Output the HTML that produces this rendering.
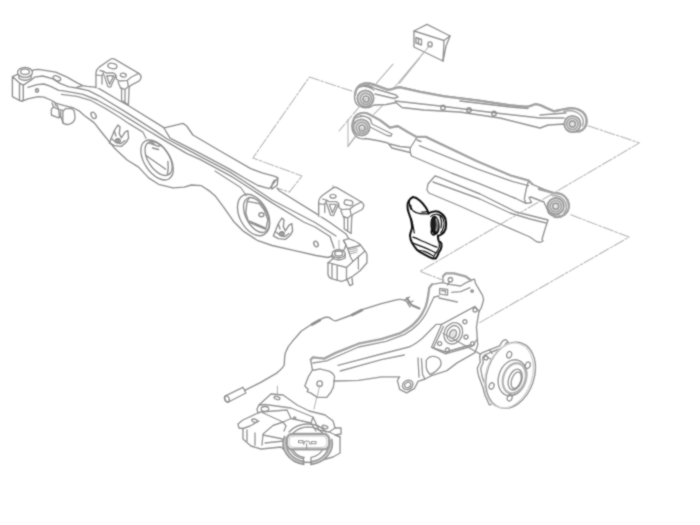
<!DOCTYPE html>
<html><head><meta charset="utf-8"><title>Rear suspension diagram</title>
<style>
html,body{margin:0;padding:0;background:#fff;font-family:"Liberation Sans",sans-serif;}
svg{display:block}
.g path,.g ellipse,.g circle,.g line,.g polyline,.g rect{fill:none;stroke:#8e8e8e;stroke-width:1.35;stroke-linecap:round;stroke-linejoin:round}
.g .w{fill:#fff}
.g .d{stroke:#b4b4b4;stroke-width:1.05}
.g .t{stroke:#969696;stroke-width:1.25}
.k path,.k ellipse,.k circle{fill:none;stroke:#111;stroke-width:2;stroke-linecap:round;stroke-linejoin:round}
.k .n{stroke-width:1.2}
</style></head><body>
<svg width="700" height="525" viewBox="0 0 700 525">
<defs><filter id="soft" x="0" y="0" width="700" height="525" filterUnits="userSpaceOnUse"><feConvolveMatrix order="3" kernelMatrix="1 2 1 2 10 2 1 2 1" divisor="22" edgeMode="duplicate" preserveAlpha="false"/></filter></defs>
<rect width="700" height="525" fill="#fff"/>
<g filter="url(#soft)">
<g class="g">
<!-- LEADERS -->
<g id="leaders">
<path class="d" style="stroke-dasharray:11 1.8 2.6 1.8" d="M351.900,91.100 L309.400,77 L252.900,158 L302,176 L289.300,192.100 L278.500,188.500"/>
<path class="d" d="M333,185.400 L333,196 M339,240 L339,252"/>
<path class="d" d="M430,45 L393,89 M393,64.100 L376.300,83.400 M420,57.700 L399.400,83.400 M382.700,105.300 L373.700,114.300 M348,119.400 L348,146.400 L361,128"/>
<path class="d" d="M277.400,386 L277.400,396.300 M319.700,384 L314,409 M255.700,415.700 L255.700,420 M325.400,421.400 L325.400,427 M305,445 L305,463"/>
</g>
<!-- SUBFRAME -->
<g id="subframe">
<!-- left end box -->
<path d="M12.400,76.600 L12.400,96.600 L19.500,100.500 L22.100,101.100 L23.300,100.500 L23.300,85.100 M19.500,100.500 L19.500,83.200 M12.400,76.600 L19.900,83.400 L23.300,85.100 M12.400,76.600 L17.600,74.300"/>
<ellipse class="w" cx="25" cy="72.400" rx="7.400" ry="4.900"/><ellipse cx="25" cy="71.800" rx="4.400" ry="2.700"/>
<path d="M19,75 L19,78.5 Q25,82 31,78.5 L31,75"/>
<!-- top back edge -->
<path d="M32.100,70.700 C34,69.600 36,69.300 38.600,69.300 L55.700,72.100 L67.100,77.100 L77.100,82.900 L82.900,85.700 L87.100,86.400 L97.100,87.300 L120,101 L128.600,105.700 L164.300,127.900 M77,87.200 L83,85.700"/>
<!-- raised -->
<path d="M164.300,127.900 L182.900,123.400 L186.700,126 L192.900,135 L219.300,150.500 L250.700,168.600 L262.100,172.900 L275,176.400 L277.900,177.900 L269.300,188.600 M164.300,128.500 L170,138.200 L200,153.300 L230,169.300 L243.600,177.500 L257.900,185.500 L269.300,188.600 M277.900,177.900 L277.300,185 L272,189 M274.500,180 L272.300,183.600 L271.500,188.500"/>
<!-- top edge after raised -->
<path d="M277,188 L279.300,190.700 L315,212.900 L330,222.500 L346,234 L349,239"/>
<!-- F,S,G lines -->
<path d="M23.300,85.100 L31.300,80 L34.700,77.100 L42.700,76 L53,78.900 L59.900,83.400 L69,86.900 L77.100,88 L88.600,90.700 L100,96.300 L128.600,113.900 L157.100,132.100 L167.100,139 L187,149.300 L200,156.400 L230,172.100 L243.600,181 L272.100,200 L315,222.500 L336,236"/>
<path d="M27.900,87.400 L37,84.600 L43.900,84 L50.700,86.300 L58.700,90.300 L62.100,90.700 L73.600,92.600 L82.900,94.300 L97.100,100 L120,113 L128.600,118.400 L147.100,130 L161.400,138.600 L187,153.600 L200,159.300 L230,175.700 L236.400,179.500 L272.100,202.900 L303.600,222 L315,227 L330,236.500 L334,248"/>
<path class="t" d="M61.400,94.300 L77.100,96.400 L91.400,100.700 L105.700,108.600 L120,117.500 L128.600,123.400 L142.900,132.100 L146,138.500 M215,171 L240.700,187.500 L246.400,195.700"/>
<!-- lower edge -->
<path d="M22.100,101.100 L27.900,98.900 L38.100,96.600 L43.900,97.100 L50.700,100 L56.400,103.400 L64.400,105.700 L73.600,108 L79,110.800 L84.300,115.500 L94.300,122.900 L101,131.500 L114.300,147.900 L127.100,160 L138.600,167.100 L148.600,177.900 L158.600,184.300 L172.900,187.900 L184.300,187.100 L191.400,185 L201.400,185.700 L210,191.400 L215,195.700 L223.600,207.100 L233.600,221.400 L243.600,231.400 L257.900,240.700 L272.100,245.500 L293.600,250.300 L316,255.500 L328,257.500 L333,255.500"/>
<!-- small holes -->
<ellipse cx="56.900" cy="78.300" rx="4" ry="2.200" transform="rotate(22 56.900 78.300)"/>
<ellipse cx="37" cy="90.600" rx="1.600" ry="1.800" style="fill:#ccc"/>
<ellipse cx="93.600" cy="115.400" rx="2.200" ry="3.400" transform="rotate(-30 93.600 115.400)"/>
<ellipse cx="316" cy="244" rx="2" ry="3" transform="rotate(-25 316 244)"/>
<!-- big holes -->
<ellipse cx="157.100" cy="160" rx="12.800" ry="22.300" transform="rotate(-33 157.100 160)"/>
<ellipse cx="158.600" cy="158.500" rx="10.500" ry="19" transform="rotate(-33 158.600 158.500)"/>
<ellipse cx="253.600" cy="215" rx="13.900" ry="22.200" transform="rotate(-28 253.600 215)"/>
<ellipse cx="256.400" cy="215" rx="10.500" ry="19" transform="rotate(-28 256.400 215)"/>
<!-- top-left bracket -->
<g id="brk">
<path class="w" d="M96,87.700 L96,73 Q96,70 99.300,67.100 L110.500,59.300 Q112.400,58 114.500,59.200 L138.700,73.400 Q141.500,75.500 141,77.500 Q140.500,79.500 139.300,80.900 L130.700,85.400 Q129,86.500 129,88.900 L128.400,104.900 L121.600,100.300 L121.600,89.400"/>
<path d="M96.400,75.200 L102,75.700 L104,71.500 L99.900,70.500 M104,71.500 L106,73 L113.600,73 L116,75 L116.400,79.100 L119.300,81 L127.300,80.300 L131.500,77 L138.700,73.400 M103.900,74.600 L107.900,86.600 L110.700,87.100 L115.900,75.100 M106.700,75.700 L109.600,84.300 L113.600,75.700 Z M118.100,82 L120.400,87.700 L125,89.400 L128.400,86.600 L127.300,80.300 M120.400,87.700 L121.600,89.400 M125,89.400 L125,102.500 M102,75.700 L102,84"/>
</g>
<ellipse cx="112.400" cy="66" rx="4.600" ry="2.600" transform="rotate(10 112.400 66)"/>
<ellipse cx="123.300" cy="75.100" rx="3" ry="1.900" transform="rotate(10 123.300 75.100)"/>
<!-- clip under left -->
<path class="w" d="M52.100,102.900 L53.600,107.100 L51.400,109.300 L51.400,115 L58.600,117.900 L60.700,116.400 L62.100,120 L62.900,122.900 C65,124.500 67,124.800 68.600,124.300 C71,123.800 72.800,122.800 73.600,121.400 C74.800,120 75,118.500 75,117.100 L74.300,111.400 C73.500,109.800 72.300,108.900 70.700,108.600 L65.700,108.600 L63.600,110.700 L58.600,109.300 L57,105"/>
<path d="M58.600,109.300 L59.300,116.400 M60.700,111.400 L60.700,116.400 M62.900,111.400 L62.900,122.900 M53.600,107.100 L58.600,109.300 M55,103.500 L56,106"/>
<!-- front brackets w/ bolt -->
<g id="fbr">
<path d="M109.300,142.900 L114.300,130.700 L117.900,125 L120,127.100 L119.300,133.600 L121.400,137.900 L125,132.100 L127.900,130.700 L128.600,137.900 L126.400,142.100 L121.400,146.400 L114.300,145.700 Z M112,139 L116,142.500 L121,143.500 L125,140.500 M114.300,130.700 L116,136"/>
<ellipse cx="117.900" cy="140.700" rx="2.400" ry="2"/><ellipse cx="117.900" cy="140.200" rx="1.200" ry="1"/>
</g>
<use href="#fbr" transform="translate(164,93)"/>
<!-- hole inner details -->
<path d="M146.400,155.700 L165.700,169.300 M167.900,161.400 C168.500,166 168.500,170 167.500,174.500 M148.600,142.900 L158.600,146.400 L161,145 M151,141.800 L155,145 M152.500,148 L158.600,149.500"/>
<path d="M249.300,197.500 L247.100,201.400 L259.300,203.600 L264.300,210 L267.900,220 L265.700,229.300 M247.100,201.400 L245.700,212.900 L248.600,222.100 L265.700,229.300 M249.500,221 L264.500,227.500"/>
<ellipse cx="261.400" cy="214.700" rx="2.500" ry="2"/>
<!-- right bracket -->
<use href="#brk" transform="translate(222.7,128.6)"/>
<ellipse cx="333" cy="196.300" rx="3" ry="1.900"/>
<rect x="344.200" y="200.200" width="8.600" height="5" rx="2.300" transform="rotate(12 348.400 202.600)"/>
<!-- right end block -->
<path class="w" d="M328,262.700 L328,274.100 Q328.500,277.500 331.400,278.700 L341.700,281.300 L346.500,279.700 L353,276 L360,270.700 L366.900,262.700 L366.900,254.700 Q366.500,252 364.600,250.500 L360,244.400 Q355,240.500 348.600,238.700 L343.500,240.400 L346,245 L344,250 L334,258 Z"/>
<path d="M328,262.700 L346.500,267.500 L346.500,279.700 M346.500,267.500 L355.400,259.300 L364.600,251.500 M343.500,240.400 Q347,246 350.500,257 L353,261.500 M347.500,248.500 L360,245.500 M358.400,256 L358.400,269 M332,263.800 L332,277.500 M337.200,265.200 L337.200,280 M347.400,279.900 L349.700,285.600 L352.700,284.400 L352,278"/>
<path class="t" style="stroke-width:.9" d="M349,250 l8,-2 M349.500,252 l8,-2 M350,254 l7,-1.800"/>
<ellipse class="w" cx="338.700" cy="253.800" rx="6.500" ry="4.200"/><ellipse cx="338.700" cy="253.500" rx="4" ry="2.500"/>
<path d="M332.200,254.500 L332.200,258 Q338.700,262 345.200,258 L345.200,254.500"/>
</g>
<!-- SMALL BRACKET -->
<g id="smallbr">
<path class="w" d="M414,31 L427,24.400 L450,36 L446,46 L443,61 L414,47 Z"/>
<path d="M414,31 L444,40.500 L443,61 M444,40.500 L450,36 M416,37.500 L421.500,39.500 L421.500,45 L416,43 Z M418.500,38.500 L418.500,44"/>
<ellipse cx="430" cy="44.400" rx="2.200" ry="2.500"/>
</g>
<!-- UPPER ARM -->
<g id="uarm">
<path class="w" d="M360,84.500 C364,82.500 369,82.500 373,84 L388,89.500 C392,89.500 396,87 400,87 L420,91.500 L444,96 L480,100.500 L510,105 L526,106.500 C530,106.500 533,104 536,104 C540,104 543,106 546,107.500 L554,111 C558,110.500 560,109.500 564,109 C570,107.500 575,107.500 579,109.500 C584,112 587,116 587,121 C587,126 584,130 579,131.500 C575,132.500 570,131 567,128 L564,124 L548,125 L540,128 L528,125 L500,118 L460,112 L424,110 L402,107.500 L396,102.500 L386,104.500 L374,105 C370,108 364,108.500 359,106 C355,103.500 354,98 355,93 C356,89 358,86 360,84.500 Z"/>
<path d="M358,88 C362,85.500 368,85.500 372,87 L376,89 L396,95 L398,97 L394,98.500 L375,94 M395,101 L440,106 L480,111 L500,113.500 L540,118 L564,118 M540,115 L566,113 M460,101 L510,107 L528,108.500 M362,86.500 C366,86 370,87.500 374,90"/>
<g id="eye" transform="translate(365.5,98.5)"><circle cx="0" cy="0" r="8.200" style="fill:#dcdcdc;stroke:#999;stroke-width:1.8"/><circle cx="0.300" cy="0.300" r="5.600" style="stroke:#a0a0a0;stroke-width:1.4"/><circle cx="0.500" cy="0.600" r="3" style="fill:#f4f4f4"/><circle cx="0.600" cy="0.800" r="1.500" style="fill:#fff;stroke:#c4c4c4;stroke-width:.8"/></g>
<g transform="translate(572.4,124)"><circle cx="0" cy="0" r="8.200" style="fill:#dcdcdc;stroke:#999;stroke-width:1.8"/><circle cx="0" cy="0" r="5.600" style="stroke:#a0a0a0;stroke-width:1.4"/><circle cx="0" cy="0" r="3" style="fill:#f4f4f4"/><circle cx="0" cy="0" r="1.500" style="fill:#fff;stroke:#c4c4c4;stroke-width:.8"/></g>
<path style="stroke:#a2a2a2;stroke-width:2.4" d="M355,95 C355.500,89 359,85 364,83.700 C368,83 372,84.200 376,85.700 L388,89.900 C392,89.900 396,87.400 400,87.400 L420,91.900 L444,96.400 L480,100.900 L510,105.400 L526,106.900 C530,106.900 533,104.400 536,104.400 C540,104.400 543,106.400 546,107.900 L554,111.400 C558,110.900 560,109.900 564,109.400 C570,107.900 575,107.900 579,109.900 C584,112.200 586.500,116 586.500,121 C586.500,126 584,130 579,131.500"/>
<path style="stroke:#a8a8a8;stroke-width:1.6" d="M564,111.500 C570,110 576,111 580,114.500 C583,117.500 584,122 582.500,126"/>

<circle cx="443" cy="107.600" r="2.300"/><circle cx="469" cy="110" r="2.300"/><circle cx="494" cy="113.600" r="2.300"/>
</g>
<!-- LOWER ARM + TUBE -->
<g id="larm">
<path class="w" d="M358,114 C362,112 366,112.500 369,114 L380,120 L390,127.500 C393,127.500 395,126 398,126 L408,132 L417,137 L425.700,136.700 L477,161 L510.600,175.300 L528.600,180.400 L532.400,184.300 L544,189.400 L554,193 C560,192.500 565,195.500 567.500,200 C570,205 569,210.500 565,214 C560,217.500 553,217.500 548.500,213 L547,208.700 L544,202 L531,197 L529,197.500 L531.500,202.500 L526,203.300 L516,198.500 L502.900,193.200 L480,183.800 L451.400,173 L411.600,156 L410.300,152.500 L400,150 L392,148 L388,143 L380,141 L366,138.500 C361,139.500 356,137.500 353.500,133 C351,128 352,122 354,118 C355,116 356.500,115 358,114 Z"/>
<path d="M528.600,180.800 L526,190 L524.300,199 L526,203.300 M417,137 L410.300,148 L410.300,152.500 M419.300,145.700 L477,168.900 L513,181.700 L528.600,185.600 M417,140 L421,141.500 M356,118 C360,115.500 366,116 370,118.500 L372,124 L392,134 L391,136 L387,135.500 L370,127 M360,116 C364,115.500 368,117.500 371,120 M390,144 L400,146.500 L410,147.500"/>
<g transform="translate(361.5,127.5)"><circle cx="0" cy="0" r="8.200" style="fill:#dcdcdc;stroke:#999;stroke-width:1.8"/><circle cx="0.300" cy="0.300" r="5.600" style="stroke:#a0a0a0;stroke-width:1.4"/><circle cx="0.500" cy="0.600" r="3" style="fill:#f4f4f4"/><circle cx="0.600" cy="0.800" r="1.500" style="fill:#fff;stroke:#c4c4c4;stroke-width:.8"/></g>
<g transform="translate(555.7,206.2)"><circle cx="0" cy="0" r="8.200" style="fill:#dcdcdc;stroke:#999;stroke-width:1.8"/><circle cx="0" cy="0" r="5.600" style="stroke:#a0a0a0;stroke-width:1.4"/><circle cx="0" cy="0" r="3" style="fill:#f4f4f4"/><circle cx="0" cy="0" r="1.500" style="fill:#fff;stroke:#c4c4c4;stroke-width:.8"/></g>
<path style="stroke:#a2a2a2;stroke-width:2.4" d="M352.800,126 C352.800,120 355,116 358,114.300 C362,112.300 366,112.700 369,114.200 L380,120.200 L390,127.700 C393,127.700 395,126.200 398,126.200 L408,132.200 L417,137.200"/>
<path style="stroke:#a2a2a2;stroke-width:2.4" d="M538.900,189 L554,193.200 C560,192.700 565,195.700 567.500,200.200 C570,205.200 569,210.700 565,214.200 C562,216.500 558,217.300 554.500,216.800"/>
<path style="stroke:#a8a8a8;stroke-width:1.6" d="M552,195.500 C558,195 563,198 565.500,202.500 C567,206 566.500,210 564,213"/>

</g>
<!-- CHANNEL -->
<g id="chan">
<path class="w" d="M435,176 L438.600,177.200 L480,194 L516,212 L532,216 L548,220 L545,229 L542,239 L543,241 L540,242.300 L536.300,241.500 L530,237 L500,224 L460,206 L429,193 L427,190 L428,184 Z"/>
<path d="M433,182 L480,199 L510,213 L530,219 L546,223"/>
</g>
<g>
</g>
<!-- ABS WIRE -->
<g id="abs">
<path d="M244.300,390.600 L260.300,382.600 L276.300,373.400 C282,369 284,367 284.300,364.300 C284.500,360 284.500,356 285.400,352.900 C287,348 289,345 292.300,341.400 L301.400,331 L311.700,324.300 L322,318.600 C325,317 327,317 328.900,317.400 C332,319 333,321 335.700,320.900 L351.700,315 L363,309.400 L381.400,303.700 L397.400,299.600 C401,299 404,299.500 406.600,301.400 L410,307"/>
<path style="stroke-width:2.6" d="M312,324.500 L320,320 M352,315 L362,310"/>
<path style="stroke-width:2.200" d="M406.900,298.100 L411.400,305 L419.400,308.400"/><path d="M405.200,299.800 L409.500,297 M408.500,303 L413,301"/>
<path class="w" d="M243,387.300 L225.500,395.800 C223.500,397 224.500,402 228.500,402 L245.800,393 Z"/>
<ellipse cx="227" cy="399" rx="2.200" ry="3.200" transform="rotate(-20 227 399)"/>
</g>
<!-- KNUCKLE / TRAILING ARM -->
<g id="knuckle">
<path class="w" d="M310.600,359.700 L312.900,357.400 L324.300,358.600 L335.700,352.900 L358.600,343.700 L381.400,339.100 L399.700,333.400 C406,330 410,327.500 413.400,324.300 C418,320 421,316 422.600,312.900 C425,309 426.500,305 427.100,301.400 L428.100,296.300 L429.300,287.700 L432.100,284.300 L443,282.600 L443,276.300 L445.900,273.400 L453.900,273.400 L465.300,276.300 L471,280.300 L474.400,279.100 L475.600,283.700 L482.400,295.100 L483.600,299.700 L481.300,307.700 L479,311.400 L476.400,326.900 L477.700,344.900 L475,352.600 L457,362.900 L446.900,370.600 L431.400,375.700 L425,379 L418,381.400 L414.600,388.300 L406.600,392.900 L399.700,389.400 L397.400,380.300 L399.700,376.900 L381.400,376.900 L358.600,380.300 L334,381 L333.400,387.100 Q331,393.500 326.600,397.400 L317.400,397.400 L310.600,392.900 L307.100,391.700 L308.300,389.400 L304.900,386 L308.300,376.900 L312.500,370 Z"/>
<path d="M312.900,363 L326.600,360.900 L358.600,347 L386,341.400 L404.300,334.600 C410,331.500 414,328.500 418,324.300 C422,320 425,316 427,311.700 L434,297 L439,296 M338,365.400 L381.400,354 L408.900,347 C414,345 418,342 422.600,338 L436.300,324.300 L441.700,324.300 M340.300,371 L381.400,359.700 L404.300,355 M312.500,370 L315.100,370 L319.700,368.900 L328.900,371.100 Q334,373.500 334.600,376.900 L334,381"/>
<path d="M443,282.600 L449.300,284.300 L460.700,286 L465.300,283.100 L471,280.300 M451.600,292.300 L460.700,291.700 L469.900,287.700 M439,298 L457.300,302 M439.600,288.300 L447.600,289.300 L447.600,295.100 L439.600,294.100 Z M441.500,290.500 L445.500,291 L445.500,293 M450,281.500 L447.500,285"/>
<path style="stroke:#a2a2a2;stroke-width:2.300" d="M310.600,359.700 L312.900,357.400 L324.300,358.600 L335.700,352.900 L358.600,343.700 L381.400,339.100 L399.700,333.400 C406,330 410,327.500 413.400,324.300 C418,320 421,316 422.600,312.900 C425,309 426.500,305 427.100,301.400 L428.100,296.300 L429.300,287.700 L432.100,284.300 M443,276.300 L445.900,273.400 L453.900,273.400 L465.300,276.300 L471,280.300"/>
<circle cx="450.400" cy="279.700" r="2.200"/><circle cx="472.100" cy="291.100" r="1.300" style="fill:#bbb"/>
<path d="M441.700,324.300 L475,306.300 L479,311.400 M441.700,324.300 L431.400,347.400 L445.600,353.900 L472.600,346 L476.400,340"/>
<ellipse cx="453.300" cy="333.300" rx="9" ry="11" transform="rotate(25 453.300 333.300)"/>
<ellipse cx="453.300" cy="333.300" rx="6.300" ry="8" transform="rotate(25 453.300 333.300)"/>
<ellipse cx="453" cy="334" rx="3.300" ry="4.500" transform="rotate(25 453 334)" style="fill:#e4e4e4"/>
<path d="M443.500,326.500 L433.500,347.800 L445.800,352 L470,345"/>
<circle cx="464.900" cy="321.700" r="2"/><circle cx="475" cy="310" r="2"/><circle cx="439.700" cy="343.600" r="2"/><circle cx="447.400" cy="350" r="2"/><circle cx="466" cy="337" r="2"/><circle cx="472.600" cy="343.600" r="2"/>
<path d="M426.300,360.300 C428,357.500 431,356 434,356.400 C437,357 439.500,358.500 440.400,360.300 C441.500,363 441,366 439,368 C436.500,371 433.500,373.500 430,374.400 C428,372.500 426.800,370.500 426.300,368 Z"/>
<path d="M421.400,358.600 L422.600,374.600 L425,379 M418,358 L419,377"/>
<ellipse cx="407.700" cy="384.900" rx="5.500" ry="4.500" transform="rotate(-30 407.700 384.900)"/>
<ellipse cx="407.700" cy="384.900" rx="3.200" ry="2.500" transform="rotate(-30 407.700 384.900)"/>
<circle cx="319.700" cy="383.700" r="2.800"/>
<path class="t" d="M443,333.300 L477.700,352.600 L493,361.600"/>
</g>
<!-- HUB -->
<g id="hub">
<path class="w" d="M508.900,343.600 C507.500,341 506.500,339.800 505.400,339.600 C504,339.800 502.800,340.800 502,341.900 L499.700,345.900 L489.400,349.900 L482.600,352.700 C480.800,353.500 479.900,354.800 479.700,356.100 L480.300,362.400 C479,364.500 477.800,366.300 477.400,368.100 C477.200,371 478.300,374.300 479.100,377.300 L482.600,386.400 L484.900,395 L489.500,405 L500,400 L512,352 Z"/>
<path d="M506.500,342.500 L503.500,347.500 L491.500,352 L485,354.800 C483.300,355.800 482.600,357 482.700,358.500 L483.200,363 C482,365 481,367 480.700,368.800 L482.200,377 L485.500,386 L487.800,394 M486,356 L493,360.700 M489.400,349.900 L492,353.500"/>
<circle cx="486" cy="357.900" r="1.900"/>
<ellipse class="w" cx="510.600" cy="375.200" rx="23.500" ry="34" transform="rotate(19 510.600 375.200)"/>
<ellipse cx="509" cy="375.500" rx="23" ry="33.500" transform="rotate(19 509 375.500)" style="stroke:#d2d2d2"/>
<ellipse cx="512.500" cy="377.800" rx="13.800" ry="18.500" transform="rotate(19 512.500 377.800)"/>
<ellipse cx="514.300" cy="378.300" rx="11" ry="15.500" transform="rotate(19 514.300 378.300)" style="stroke:#b4b4b4;stroke-width:2.400;stroke-dasharray:1.6 .7"/>
<ellipse cx="515.200" cy="379.600" rx="6.500" ry="10.800" transform="rotate(19 515.200 379.600)"/>
<ellipse cx="516.200" cy="380.200" rx="4.500" ry="8.500" transform="rotate(19 516.200 380.200)"/>
<ellipse cx="509.200" cy="354.700" rx="2.400" ry="3.300" transform="rotate(19 509.200 354.700)"/>
<ellipse cx="527.800" cy="365.200" rx="2.400" ry="3.300" transform="rotate(19 527.800 365.200)"/>
<ellipse cx="491.600" cy="386" rx="2.400" ry="3.300" transform="rotate(19 491.600 386)"/>
<ellipse cx="509.700" cy="397.800" rx="2.400" ry="3.300" transform="rotate(19 509.700 397.800)"/>
</g>
<g>
</g>
<!-- MOUNT -->
<g id="mount">
<path class="w" d="M258,413 L243,420 L238,424 L239,428 L243,428.500 L243,439 L251,446 L261,449 L281,447 L290,455 L300,462 L313,462.500 L333,457 L340,453 L340,437 L335,435 L341,434 L341,428 L335,428 L333,421 L325,415 L309,411 L297,405 L283,395 L271,394 L259,405 L257,409 Z"/>
<path d="M259,405 L265,404.500 L291,408 L313,417 L311,423 L291,418.500 L287,410 L261,412 L258,413 M261,412 L283,422 L273,425.500 L263,434 L262,445 M283,422 L291,418.500 M313,417 L319,430 L329,432 L335,428 M311,423 L316,431 M255,433 L255,445 M247,430 L247,441 M263,435 L283,439 M265,443 L284,441 M283,422 L286,426 L284,431 M329,432 L340,437 M243,428.500 L250,426 L259,421"/>
<ellipse cx="264.900" cy="408.900" rx="3.800" ry="2.400"/>
<ellipse cx="277" cy="398" rx="3" ry="1.500" transform="rotate(15 277 398)"/>
<ellipse cx="254.600" cy="420.700" rx="3" ry="1.500" transform="rotate(15 254.600 420.700)"/>
<ellipse cx="325" cy="427" rx="3" ry="1.500" transform="rotate(15 325 427)"/>
<circle cx="294.600" cy="418" r="1.200"/>
<path style="stroke:#c6c6c6;stroke-width:3.4;stroke-linecap:butt" d="M286.1,436.7 A23,19.8 0 0 0 304.1,463.1 M310.9,463.1 A23,19.8 0 0 0 330.2,439.4"/>
<path d="M284.5,436.2 A24.7,21.2 0 0 0 303.8,464.4 M287.2,438.5 A21.3,18.3 0 0 0 304.0,461.5 M311.1,464.5 A24.7,21.2 0 0 0 331.9,439.1 M311.0,461.6 A21.3,18.3 0 0 0 328.8,441.0"/>
<path d="M292.2,448.4 A16.5,14.2 0 0 0 304.3,457.4 M311.1,457.4 A16.5,14.2 0 0 0 322.7,449.5 M290.9,450.2 A18.5,15.9 0 0 0 303.2,458.9 M303.5,464.5 L303.5,458.0 M311.0,464.5 L311.0,457.5"/>
<path d="M289,432 C294,426.500 301,424 308,424 C315,424 322,427 326,432 M293,433 C298,428.500 303,427 308,427 C314,427 319,429 322.500,433"/>
<rect class="w" x="286.800" y="434" width="42.400" height="15.400" rx="5.500" style="stroke:#9c9c9c;stroke-width:2.400"/>
<rect x="289.200" y="436" width="37.600" height="11.400" rx="4" style="stroke:#c4c4c4;stroke-width:1"/>
<path style="stroke-width:1.1" d="M298.500,440.500 h4.500 v2.200 h-4.500 Z M311.500,441.500 h4.500 v2.200 h-4.500 Z M303.800,444.500 C303.800,439.800 310,439.800 310,444.500 M306.600,443.500 L306.600,449"/>
</g>
<g>
</g>
</g>
<g class="g" id="topleaders">
<path class="d" style="stroke-dasharray:11 1.8 2.6 1.8" d="M588,125.700 L639.400,142.900 L420,271.400 L444,280.500"/>
<path class="d" style="stroke-dasharray:11 1.8 2.6 1.8" d="M570.800,214.800 L629.100,237.100 L479,323"/>
<path class="d" style="stroke-dasharray:9 2" d="M366,98.900 L339,131"/>
<path class="d" d="M362,128.500 L348,146.400 M430,45 L421,56 M319.700,385 L317.300,397"/>
<path style="stroke:#a2a2a2;stroke-width:2.300" d="M418,136.900 L425.700,136.900 L477,161.200 L510.600,175.500 L528.600,180.600 L532.400,184.300"/>
</g>
<g class="k">
<path d="M412.900,197.100 C410.500,198.200 408.800,200.200 407.900,202.900 C407.300,205.500 407.500,208 407.900,210 C408.500,213 410,216 410.700,218.600 C411.500,221.500 412,224.500 412.100,227.100 C411.800,230.500 410,233 410,235.700 C410.200,238.500 411,241 412.100,242.900 C413.500,245.500 415.300,248 417.100,250 C419.500,252 422,253.300 424.300,254.300 C427,255.800 430,257.500 432.900,258.600 L435.700,258.600 C437,256.800 438,254.800 438.600,252.900 C439.800,251 441.200,249 441.400,247.100 L441.400,243.600 C440.800,242.300 439.300,241.700 438.600,240.700 C438,239 438,237.300 437.900,235.700"/>
<path d="M412.900,197.100 C415.500,197.300 418,199 420,200.700 C422,202.500 423.600,204.400 425,206.400 C426.200,208 427.200,209.700 427.900,211.400 L428.600,213.600 C430.500,212 432.300,211.500 434.300,211.400 C437,211.200 439.500,212 441.400,213.600 C443.800,215.300 445.300,217.500 445.700,220 C446.300,223 446.300,226 445.700,228.600 C445,231 443.500,233 441.400,234.300 C440.300,235.200 439,235.700 437.900,235.700"/>
<path class="n" d="M410.700,205 C410.800,207.500 411.500,209.300 412.900,210.700 C415,212.500 417.500,213.300 420,213.600 C423,213.900 426,213.900 428.600,213.600 M409.500,201 C409,204 409.800,207 411,209.500 M421.400,212 C424,212.200 426.500,211.800 427.900,211.400 M411.400,218.600 C412.500,223 413.500,228 414.300,232.900 M412.900,237.100 C416,238 419,239.500 421.400,240.700 C425,242 428.500,243.500 431.400,245 C433.500,246 435.500,246.800 437.100,247.100 M412.100,242.900 C415,244 418.500,245.300 421.400,246.400 C425,247.800 428.500,249.300 431.400,250.700 C433,251.500 434.500,252.300 435.700,252.900 M417.100,250 C419.500,250.300 422,250.700 424.300,251.400 C427.500,252.500 430.500,254.300 432.900,255.700 M438.600,240.700 C439.300,243 439.500,245 439.300,247.100 C438.500,250 436.500,252.500 435,254.300 C434,256 433.700,257.300 433.600,258"/>
<path class="n" d="M430.700,216.400 C432.500,214.800 435,214.100 437.100,214.300 C439.500,214.700 441.800,216 442.900,217.900 C444,220.500 444.300,224 443.600,227.100 C443,229.500 442,231.500 440.700,232.900 M440,216.500 C441.500,219.500 441.800,224 441,228"/>
<ellipse cx="435" cy="225.200" rx="4" ry="8.800" transform="rotate(-4 435 225.200)" style="fill:#1a1a1a;stroke-width:1.3"/>
<path class="n" d="M436.300,219 C437.300,222 437.300,227 436.300,230.500" style="stroke:#a0a0a0;stroke-width:1.4"/>
<path class="n" d="M431.500,230 C431,232 431.500,234 433,234.800 C434,235.200 435,234.600 435.500,233.500" style="stroke-width:1.5"/>
</g>

</g>
</svg>
</body></html>
